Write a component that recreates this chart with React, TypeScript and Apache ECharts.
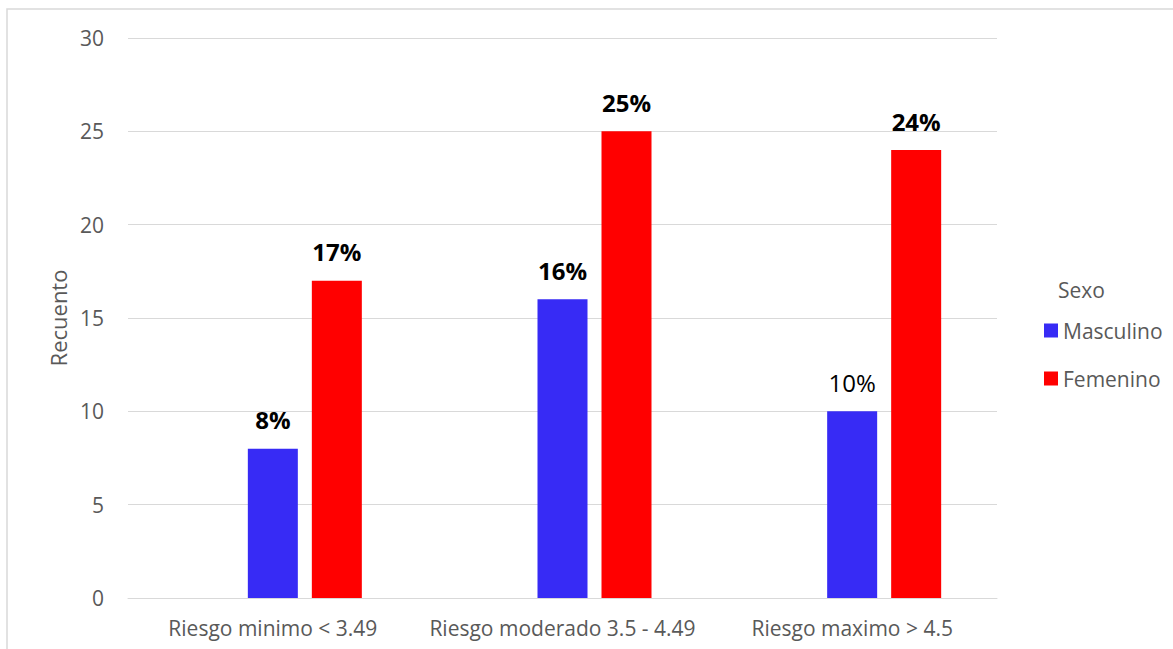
import React, { useEffect, useRef } from "react";
import * as echarts from "echarts";

const categories = ["Riesgo minimo < 3.49", "Riesgo moderado 3.5 - 4.49", "Riesgo maximo > 4.5"];
const masculino = [8, 16, 10];
const femenino = [17, 25, 24];
const masculinoLabels = ["8%", "16%", "10%"];
const femeninoLabels = ["17%", "25%", "24%"];
const masculinoBold = [true, true, false];
const femeninoBold = [true, true, true];
const emptySeries = [null, null, null];

const FONT = "'Open Sans', sans-serif";

export default function App() {
  const ref = useRef<HTMLDivElement>(null);
  useEffect(() => {
    if (!ref.current) return;
    const chart = echarts.init(ref.current, null, { renderer: "svg" });
    const mk = (vals: number[], labels: string[], bold: boolean[]) =>
      vals.map((v, i) => ({
        value: v,
        label: {
          show: true,
          position: "top",
          distance: 17,
          formatter: labels[i],
          color: "#000",
          fontFamily: FONT,
          fontSize: 24,
          fontWeight: bold[i] ? "bold" : "normal",
        },
      }));
    chart.setOption({
      animation: false,
      backgroundColor: "#fff",
      grid: { left: 128, right: 176, top: 38, bottom: 51, containLabel: false },
      legend: {
        orient: "vertical",
        left: 1039,
        top: 315,
        itemWidth: 14,
        itemHeight: 14,
        itemGap: 27,
        icon: "rect",
        data: ["Masculino", "Femenino"],
        textStyle: { color: "#595959", fontFamily: FONT, fontSize: 21 },
      },
      xAxis: {
        type: "category",
        data: categories,
        axisLine: { lineStyle: { color: "#d9d9d9", width: 1 } },
        axisTick: { show: false },
        axisLabel: { color: "#595959", fontFamily: FONT, fontSize: 21, margin: 19, interval: 0 },
      },
      yAxis: {
        type: "value",
        min: 0,
        max: 30,
        interval: 5,
        name: "Recuento",
        nameLocation: "middle",
        nameGap: 57,
        nameTextStyle: { color: "#595959", fontFamily: FONT, fontSize: 22 },
        axisLine: { show: false },
        axisTick: { show: false },
        axisLabel: { color: "#595959", fontFamily: FONT, fontSize: 21, margin: 24 },
        splitLine: { lineStyle: { color: "#d9d9d9", width: 1 } },
      },
      series: [
        { name: "_", type: "bar", data: emptySeries, barWidth: 50, barGap: "28%" },
        {
          name: "Masculino",
          type: "bar",
          data: mk(masculino, masculinoLabels, masculinoBold),
          barWidth: 50,
          barGap: "28%",
          itemStyle: { color: "#372BF5" },
        },
        {
          name: "Femenino",
          type: "bar",
          data: mk(femenino, femeninoLabels, femeninoBold),
          barWidth: 50,
          barGap: "28%",
          itemStyle: { color: "#FF0000" },
        },
      ],
      graphic: [
        {
          type: "rect",
          shape: { x: 7, y: 9, width: 1200, height: 700 },
          style: { fill: "none", stroke: "#d9d9d9", lineWidth: 1.5 },
          silent: true,
        },
        {
          type: "text",
          left: 1058,
          top: 279,
          style: { text: "Sexo", fill: "#595959", font: `21px ${FONT}` },
        },
      ],
    });
    return () => chart.dispose();
  }, []);
  return (
    <div
      ref={ref}
      style={{ position: "fixed", left: 0, top: 0, width: 1173, height: 649 }}
    />
  );
}
